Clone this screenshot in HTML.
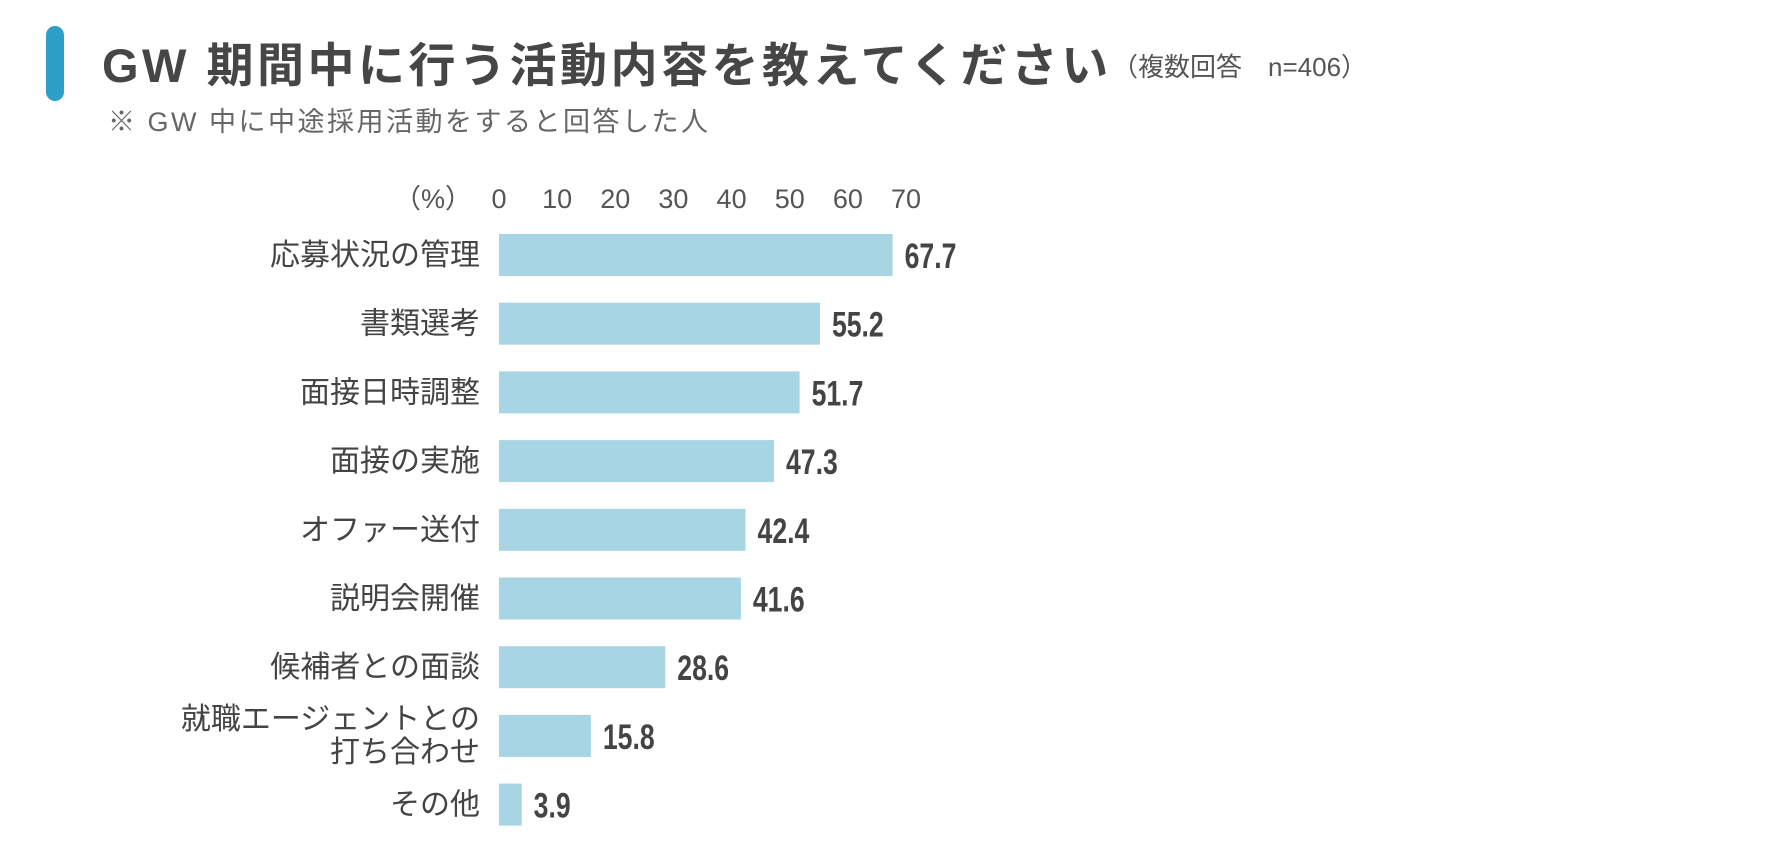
<!DOCTYPE html>
<html><head><meta charset="utf-8">
<style>
html,body{margin:0;padding:0;background:#fff;}
body{width:1778px;height:849px;overflow:hidden;position:relative;font-family:"Liberation Sans","Noto Sans CJK JP",sans-serif;}
</style></head>
<body>
<svg width="1778" height="849" viewBox="0 0 1778 849" xmlns="http://www.w3.org/2000/svg">
<rect x="46" y="26" width="18" height="75" rx="9" fill="#2e9fc6"/>
<text x="102" y="82" font-size="47" font-weight="bold" fill="#464646" letter-spacing="3.5" font-family="Liberation Sans, Noto Sans CJK JP, sans-serif">GW 期間中に行う活動内容を教えてください</text>
<text x="1112" y="76" font-size="26" fill="#555" font-family="Liberation Sans, Noto Sans CJK JP, sans-serif">（複数回答　n=406）</text>
<text x="108" y="131" font-size="27" fill="#666" letter-spacing="2.5" font-family="Liberation Sans, Noto Sans CJK JP, sans-serif">※ GW 中に中途採用活動をすると回答した人</text>
<g id="axis"></g>
<g id="bars"></g>
</svg>
<script>
const categories=[["応募状況の管理"],["書類選考"],["面接日時調整"],["面接の実施"],["オファー送付"],["説明会開催"],["候補者との面談"],["就職エージェントとの","打ち合わせ"],["その他"]];
const values=[67.7,55.2,51.7,47.3,42.4,41.6,28.6,15.8,3.9];
const ticks=[0,10,20,30,40,50,60,70];
const NS="http://www.w3.org/2000/svg";
const x0=499, pxPer=407/70, rowTop=234, pitch=68.7, barH=42;
function xs(v){return x0+v*pxPer;}
function ys(i){return rowTop+i*pitch;}
function mk(t,a){const e=document.createElementNS(NS,t);for(const k in a)e.setAttribute(k,a[k]);return e;}
const axis=document.getElementById('axis'), bars=document.getElementById('bars');
const unit=mk('text',{x:472,y:208,'font-size':27,fill:'#555','text-anchor':'end'});


unit.textContent='（%）';axis.appendChild(unit);
ticks.forEach(t=>{const e=mk('text',{x:xs(t),y:208,'font-size':27,fill:'#555','text-anchor':'middle'});


e.textContent=t;axis.appendChild(e);});
values.forEach((v,i)=>{
 const y=ys(i), cy=y+barH/2;
 const r=mk('rect',{x:x0,y:y,width:xs(v)-x0,height:barH,fill:'#a7d5e4'});
 
 
 bars.appendChild(r);
 const lines=categories[i];
 lines.forEach((l,j)=>{
  const yy=lines.length===1?cy+10:cy-7+j*33;
  const t=mk('text',{x:480,y:yy,'font-size':30,fill:'#444','text-anchor':'end'});
  
  
  t.textContent=l;bars.appendChild(t);
 });
 const vl=mk('text',{x:0,y:0,'font-size':35,'font-weight':'bold',fill:'#444',transform:'translate('+(xs(v)+12)+','+(cy+13)+') scale(0.76,1)'});
 
 
 vl.textContent=v.toFixed(1);bars.appendChild(vl);
});
</script>
</body></html>
